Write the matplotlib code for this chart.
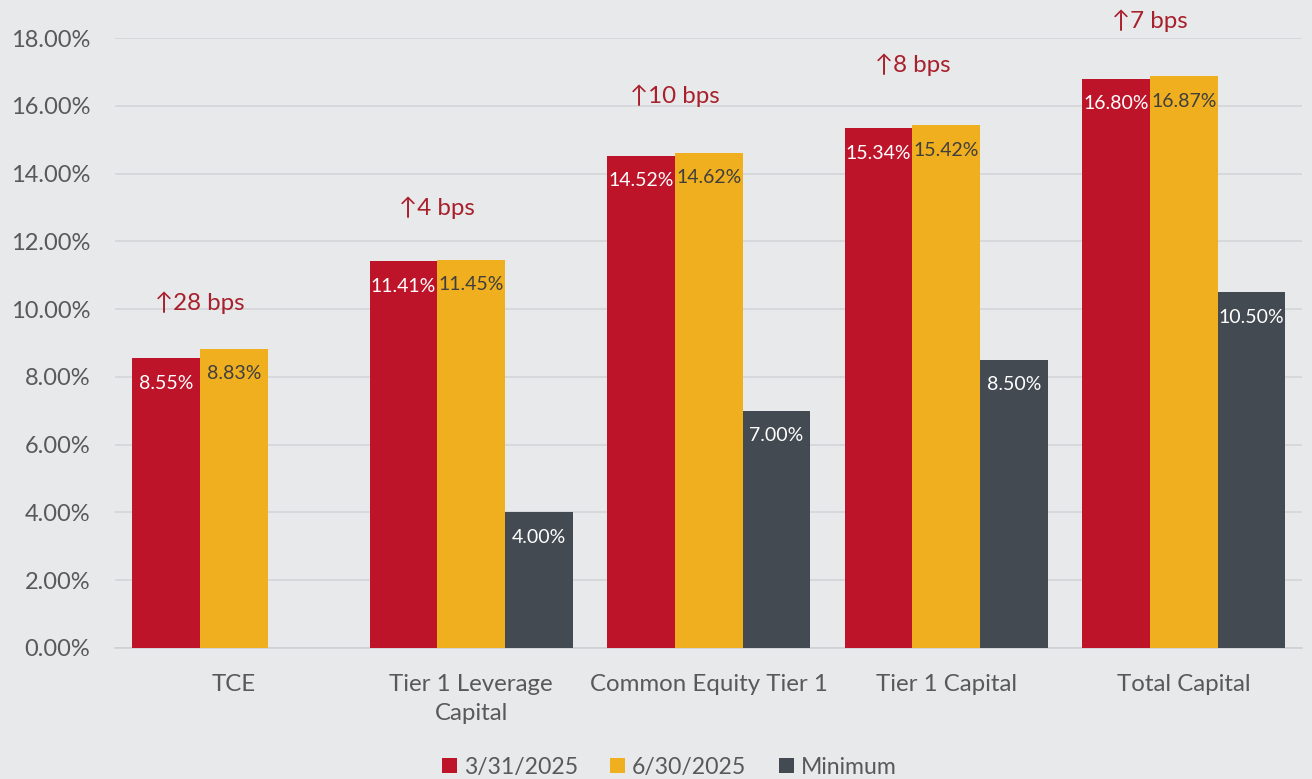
import matplotlib
matplotlib.use("Agg")
import matplotlib.pyplot as plt
import numpy as np

plt.rcParams['font.family'] = ['Lato', 'DejaVu Sans']

# data
categories = ["TCE", "Tier 1 Leverage\nCapital", "Common Equity Tier 1", "Tier 1 Capital", "Total Capital"]
series_names = ["3/31/2025", "6/30/2025", "Minimum"]
q1_vals = [8.55, 11.41, 14.52, 15.34, 16.80]
q2_vals = [8.83, 11.45, 14.62, 15.42, 16.87]
min_vals = [np.nan, 4.00, 7.00, 8.50, 10.50]
change_labels = ["\u219128 bps", "\u21914 bps", "\u219110 bps", "\u21918 bps", "\u21917 bps"]
change_y = [10.2, 13.0, 16.3, 17.2, 18.5]  # where the change notes sit

bg = "#E8E9EB"
colors = ["#BE1429", "#F0AF1E", "#434A52"]
text_colors = ["white", "#3F3F3F", "white"]

fig = plt.figure(figsize=(13.12, 7.79), dpi=100, facecolor=bg)
ax = fig.add_axes([0.0877, 0.1682, 0.905, 0.783])
ax.set_facecolor(bg)

x = np.arange(len(categories))
w = 0.285
offsets = [-w, 0, w]

for vals, off, col, tcol, name in zip([q1_vals, q2_vals, min_vals], offsets, colors, text_colors, series_names):
    ax.bar(x + off, vals, width=w, color=col, label=name, zorder=3)
    for xi, v in zip(x + off, vals):
        if np.isnan(v):
            continue
        ax.annotate(f"{v:.2f}%", (xi, v), xytext=(0, -18), textcoords="offset points",
                    ha="center", va="center", fontsize=14, color=tcol, zorder=4)

# change notes above the pair of quarter bars
for xi, lab, yv in zip(x, change_labels, change_y):
    ax.text(xi - w / 2, yv, lab, ha="center", va="center", fontsize=17.4,
            color="#A8202C", clip_on=False)

ax.set_xlim(-0.5, 4.5)
ax.set_ylim(0, 18)
ax.set_yticks(np.arange(0, 18.1, 2))
ax.set_yticklabels([f"{t:.2f}%" for t in np.arange(0, 18.1, 2)])
ax.set_xticks(x)
ax.set_xticklabels(categories, linespacing=1.45)
ax.tick_params(axis="both", length=0, labelcolor="#595959")
ax.tick_params(axis="x", pad=19, labelsize=17.3)
ax.tick_params(axis="y", pad=18, labelsize=17)

ax.grid(axis="y", color="#D4D5D8", linewidth=1.2, zorder=0)
for s in ["top", "right", "left"]:
    ax.spines[s].set_visible(False)
ax.spines["bottom"].set_color("#CFD0D3")
ax.spines["bottom"].set_linewidth(1.2)

fig.legend(loc="lower center", bbox_to_anchor=(0.51, -0.025), ncol=3, frameon=False,
           fontsize=16.6, handlelength=0.65, handleheight=0.65, handletextpad=0.3,
           columnspacing=1.4, labelcolor="#595959")

plt.savefig("out.png", dpi=100, facecolor=bg)
